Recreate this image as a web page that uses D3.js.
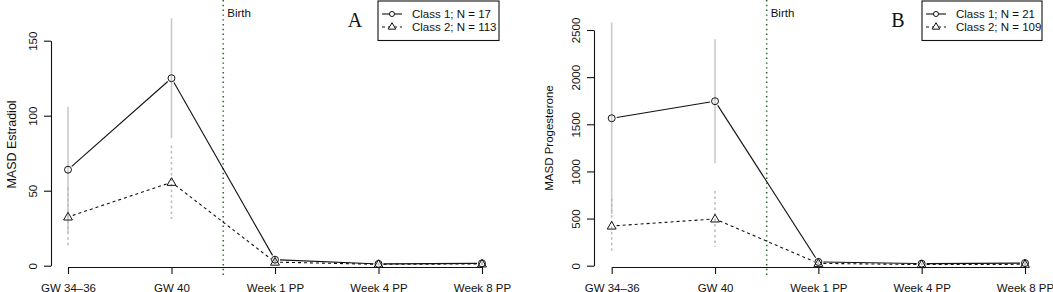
<!DOCTYPE html>
<html>
<head>
<meta charset="utf-8">
<script src="https://cdn.jsdelivr.net/npm/d3@7"></script>
<style>
  html, body { margin: 0; padding: 0; background: #fff; }
  svg { display: block; font-family: "Liberation Sans", Arial, sans-serif; }
</style>
</head>
<body>
<svg id="chart" width="1053" height="292"></svg>
<script>
// ---- data ----
const timepoints = ["GW 34\u201336", "GW 40", "Week 1 PP", "Week 4 PP", "Week 8 PP"];

const estradiolClass1 = [64, 125, 4, 1.2, 1.6];
const estradiolClass1Err = [42, 40, 2, 0.8, 1];
const estradiolClass2 = [32.5, 55.6, 2.4, 0.9, 1.2];
const estradiolClass2Err = [19.5, 24.5, 1.5, 0.6, 0.8];
const estradiolTicks = [0, 50, 100, 150];

const progClass1 = [1564, 1745, 40, 22, 28];
const progClass1Err = [1015, 658, 20, 12, 30];
const progClass2 = [421, 496, 25, 12, 15];
const progClass2Err = [290, 297, 12, 8, 10];
const progTicks = [0, 500, 1000, 1500, 2000, 2500];

const legendA = ["Class 1; N = 17", "Class 2; N = 113"];
const legendB = ["Class 1; N = 21", "Class 2; N = 109"];

// ---- drawing ----
const svg = d3.select("#chart");
const ink = "#111";

function panel(cfg) {
  const g = svg.append("g");
  const x = d3.scalePoint().domain(timepoints).range(cfg.xr);
  const y = d3.scaleLinear().domain([0, d3.max(cfg.ticks)]).range(cfg.yr);
  const axisY = 267;

  // birth line
  const bx = (x(timepoints[1]) + x(timepoints[2])) / 2;
  g.append("line").attr("x1", bx).attr("x2", bx).attr("y1", 0).attr("y2", 277)
    .attr("stroke", "#2f6b2f").attr("stroke-width", 1.6).attr("stroke-dasharray", "1.4,3.4");
  g.append("text").attr("x", bx + 4).attr("y", 16.5).attr("font-size", 11.5).attr("fill", ink).text("Birth");

  // y axis
  const ya = g.append("g").attr("transform", `translate(${cfg.yx},0)`)
    .call(d3.axisLeft(y).tickValues(cfg.ticks).tickFormat(d3.format("d"))
      .tickSize(7).tickSizeOuter(0).tickPadding(0));
  ya.select(".domain").attr("stroke", ink).attr("stroke-width", 1.1);
  ya.selectAll(".tick line").attr("stroke", ink).attr("stroke-width", 1.1);
  ya.selectAll(".tick text")
    .attr("font-size", 11.5).attr("fill", ink).attr("font-family", "Liberation Sans, Arial, sans-serif")
    .attr("text-anchor", "middle").attr("dy", null).attr("x", null)
    .attr("transform", "translate(-14,0) rotate(-90)")
    .attr("dominant-baseline", "auto");

  // x axis
  const xa = g.append("g").attr("transform", `translate(0,${axisY})`)
    .call(d3.axisBottom(x).tickSize(7).tickSizeOuter(0).tickPadding(0));
  xa.select(".domain").attr("stroke", ink).attr("stroke-width", 1.1);
  xa.selectAll(".tick line").attr("stroke", ink).attr("stroke-width", 1.1);
  xa.selectAll(".tick text").attr("font-size", 11.5).attr("fill", ink)
    .attr("font-family", "Liberation Sans, Arial, sans-serif")
    .attr("dy", null).attr("y", 24.5);

  // y title
  g.append("text").attr("transform", `translate(${cfg.titleX},${cfg.titleY}) rotate(-90)`)
    .attr("text-anchor", "middle").attr("dominant-baseline", "central")
    .attr("font-size", cfg.titleSize).attr("fill", ink).text(cfg.title);

  // series
  const series = [
    { v: cfg.c1, e: cfg.e1, dash: null, errDash: null, errColor: "#cacaca", shape: "circle" },
    { v: cfg.c2, e: cfg.e2, dash: "3,3", errDash: "2.5,3", errColor: "#bdbdbd", shape: "triangle" }
  ];

  // error bars
  series.forEach(s => {
    g.append("g").selectAll("line").data(timepoints).join("line")
      .attr("x1", d => x(d)).attr("x2", d => x(d))
      .attr("y1", (d, i) => y(s.v[i] + s.e[i]))
      .attr("y2", (d, i) => y(Math.max(0, s.v[i] - s.e[i])))
      .attr("stroke", s.errColor).attr("stroke-width", 1.6)
      .attr("stroke-dasharray", s.errDash);
  });

  // lines with gaps (type "b")
  const gap = 5;
  series.forEach(s => {
    const pts = timepoints.map((d, i) => [x(d), y(s.v[i])]);
    const segs = [];
    for (let i = 0; i < pts.length - 1; i++) {
      const [x1, y1] = pts[i], [x2, y2] = pts[i + 1];
      const len = Math.hypot(x2 - x1, y2 - y1);
      if (len <= 2 * gap) continue;
      const ux = (x2 - x1) / len, uy = (y2 - y1) / len;
      segs.push([x1 + ux * gap, y1 + uy * gap, x2 - ux * gap, y2 - uy * gap]);
    }
    g.append("g").selectAll("line").data(segs).join("line")
      .attr("x1", d => d[0]).attr("y1", d => d[1]).attr("x2", d => d[2]).attr("y2", d => d[3])
      .attr("stroke", ink).attr("stroke-width", 1.1).attr("stroke-dasharray", s.dash);
  });

  // markers
  const circleSym = d3.symbol().type(d3.symbolCircle).size(38);
  const triSym = d3.symbol().type(d3.symbolTriangle).size(34);
  series.forEach(s => {
    g.append("g").selectAll("path").data(timepoints).join("path")
      .attr("transform", (d, i) => `translate(${x(d)},${y(s.v[i]) + (s.shape === "triangle" ? 0.5 : 0)})`)
      .attr("d", s.shape === "circle" ? circleSym : triSym)
      .attr("fill", "none").attr("stroke", ink).attr("stroke-width", 1);
  });

  // panel letter
  g.append("text").attr("x", cfg.letterX).attr("y", 27).attr("text-anchor", "middle")
    .attr("font-family", "Liberation Serif, Times New Roman, serif").attr("font-size", 20)
    .attr("fill", ink).text(cfg.letter);

  // legend
  const lx = cfg.legX, lw = cfg.legW;
  g.append("rect").attr("x", lx).attr("y", 1).attr("width", lw).attr("height", 39.5)
    .attr("fill", "#fff").attr("stroke", ink).attr("stroke-width", 1.1);
  cfg.legend.forEach((t, i) => {
    const ry = 14 + i * 13;
    g.append("line").attr("x1", lx + 4).attr("x2", lx + 24).attr("y1", ry).attr("y2", ry)
      .attr("stroke", ink).attr("stroke-width", 1.1).attr("stroke-dasharray", series[i].dash);
    g.append("path").attr("transform", `translate(${lx + 14},${ry})`)
      .attr("d", (i === 0 ? d3.symbol().type(d3.symbolCircle).size(20) : d3.symbol().type(d3.symbolTriangle).size(24))())
      .attr("fill", "#fff").attr("stroke", ink).attr("stroke-width", 1);
    g.append("text").attr("x", lx + 34).attr("y", ry).attr("dominant-baseline", "central")
      .attr("font-size", 11.5).attr("fill", ink).text(t);
  });
}

panel({
  xr: [68, 482], yr: [265.7, 40.7], yx: 51, ticks: estradiolTicks,
  c1: estradiolClass1, e1: estradiolClass1Err, c2: estradiolClass2, e2: estradiolClass2Err,
  title: "MASD Estradiol", titleX: 12, titleY: 144.5, titleSize: 12.5,
  letter: "A", letterX: 355, legX: 378, legW: 121, legend: legendA
});

panel({
  xr: [611.7, 1025], yr: [265.7, 30], yx: 594, ticks: progTicks,
  c1: progClass1, e1: progClass1Err, c2: progClass2, e2: progClass2Err,
  title: "MASD Progesterone", titleX: 549, titleY: 138, titleSize: 11.5,
  letter: "B", letterX: 898, legX: 922, legW: 120, legend: legendB
});
</script>
</body>
</html>
